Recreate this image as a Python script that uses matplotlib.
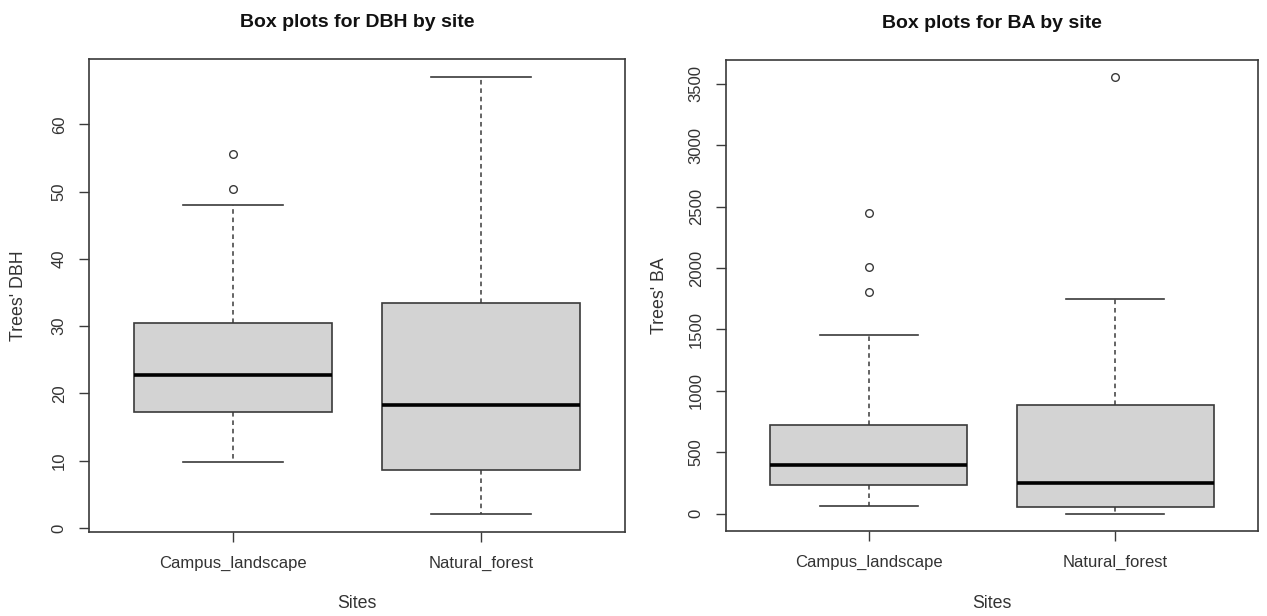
import matplotlib
matplotlib.use("Agg")
import matplotlib.pyplot as plt

sites = ["Campus_landscape", "Natural_forest"]

dbh_whislo = [9.8, 2.0]
dbh_q1 = [17.3, 8.6]
dbh_med = [22.7, 18.2]
dbh_q3 = [30.4, 33.5]
dbh_whishi = [48.0, 67.1]
dbh_fliers = [[50.4, 55.6], []]

ba_whislo = [65, 2]
ba_q1 = [231, 55]
ba_med = [397, 253]
ba_q3 = [721, 887]
ba_whishi = [1458, 1749]
ba_fliers = [[1806, 2012, 2447], [3551]]

dbh_ticks = [0, 10, 20, 30, 40, 50, 60]
ba_ticks = [0, 500, 1000, 1500, 2000, 2500, 3000, 3500]

plt.rcParams['font.family'] = ['Liberation Sans', 'DejaVu Sans']
LC = "#3a3a3a"
TC = "#333333"

W, H = 1267, 616
fig = plt.figure(figsize=(W / 100, H / 100), dpi=100)


def px_axes(x0, y0, x1, y1):
    return fig.add_axes([x0 / W, 1 - y1 / H, (x1 - x0) / W, (y1 - y0) / H])


def make_stats(lo, q1, med, q3, hi, fl):
    out = []
    for i in range(len(lo)):
        out.append(dict(whislo=lo[i], q1=q1[i], med=med[i], q3=q3[i],
                        whishi=hi[i], fliers=fl[i], label=sites[i]))
    return out


def draw(ax, stats, ticks, title, ylabel, box_px, ylab_x, xlab_y):
    ax.bxp(stats, positions=[1, 2], widths=0.8, patch_artist=True,
           showfliers=True,
           boxprops=dict(facecolor="#d3d3d3", edgecolor=LC, linewidth=1.2),
           medianprops=dict(color="black", linewidth=2.6, solid_capstyle="butt"),
           whiskerprops=dict(color=LC, linewidth=1.1, linestyle=(0, (3, 2.5))),
           capprops=dict(color=LC, linewidth=1.2),
           capwidths=0.4,
           flierprops=dict(marker="o", markersize=5.5, markerfacecolor="none",
                           markeredgecolor=LC, markeredgewidth=1.0))
    allv = []
    for s in stats:
        allv += [s["whislo"], s["whishi"]] + list(s["fliers"])
    lo, hi = min(allv), max(allv)
    r = hi - lo
    ax.set_ylim(lo - 0.04 * r, hi + 0.04 * r)
    ax.set_xlim(0.42, 2.58)
    ax.set_yticks(ticks)
    ax.set_yticklabels([str(t) for t in ticks], rotation=90, va="center",
                       fontsize=12, color=TC)
    ax.set_xticks([1, 2])
    ax.set_xticklabels(sites, fontsize=12, color=TC)
    ax.tick_params(axis="both", direction="out", length=7, width=1.0,
                   color=LC, pad=9)
    ax.tick_params(axis="x", pad=10)
    for sp in ax.spines.values():
        sp.set_color(LC)
        sp.set_linewidth(1.2)
    ax.set_title(title, fontsize=14, fontweight="bold", pad=23, color="#111111")
    ax.set_ylabel(ylabel, fontsize=12.8, color=TC)
    ax.set_xlabel("Sites", fontsize=12.8, color=TC)
    x0, y0, x1, y1 = box_px
    ax.yaxis.label.set_va("center")
    ax.yaxis.set_label_coords((ylab_x - x0) / (x1 - x0), 0.5)
    ax.xaxis.label.set_va("center")
    ax.xaxis.set_label_coords(0.5, (y1 - xlab_y) / (y1 - y0))


box1 = (89, 59, 625, 532)
ax1 = px_axes(*box1)
draw(ax1, make_stats(dbh_whislo, dbh_q1, dbh_med, dbh_q3, dbh_whishi, dbh_fliers),
     dbh_ticks, "Box plots for DBH by site", "Trees' DBH", box1, 18.5, 603)

box2 = (726, 60, 1258, 531)
ax2 = px_axes(*box2)
draw(ax2, make_stats(ba_whislo, ba_q1, ba_med, ba_q3, ba_whishi, ba_fliers),
     ba_ticks, "Box plots for BA by site", "Trees' BA", box2, 660, 603)

fig.savefig("out.png", dpi=100, facecolor="white")
